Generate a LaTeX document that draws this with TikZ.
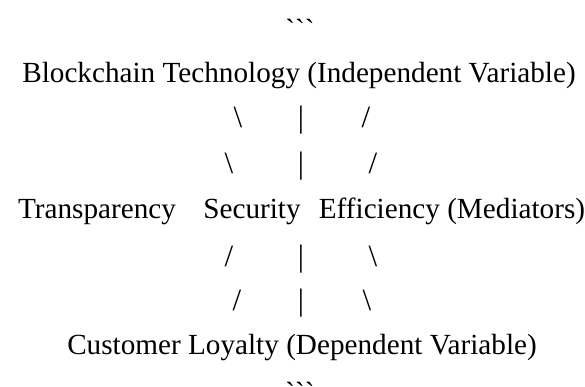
\documentclass[tikz,border=0pt]{standalone}
\usepackage{fontspec}
\setmainfont{Liberation Serif}
\begin{document}
\begin{tikzpicture}[x=1pt, y=-1pt, line cap=round, line join=round,
  txt/.style={inner sep=0pt, anchor=base, font=\fontsize{29.2}{35}\selectfont},
  bar/.style={inner sep=0pt, anchor=base, font=\fontsize{31}{37}\selectfont}]
\useasboundingbox (0,0) rectangle (585,387);
% 各行基线位置
\coordinate (top) at (300,40);   % 上方反引号
\coordinate (iv)  at (299,83);   % 自变量
\coordinate (tr)  at (97,218);   % 中介变量
\coordinate (se)  at (252,218);
\coordinate (ef)  at (452,218);
\coordinate (dv)  at (302,354);  % 因变量
\coordinate (bot) at (300,402);  % 下方反引号
% 文字
\node[txt] (ticksTop) at (top) {\textasciigrave\textasciigrave\textasciigrave};
\node[txt] (blockchain) at (iv) {Blockchain Technology (Independent Variable)};
\node[txt] (transparency) at (tr) {Transparency};
\node[txt] (security) at (se) {Security};
\node[txt] (efficiency) at (ef) {Efficiency (Mediators)};
\node[txt] (loyalty) at (dv) {Customer Loyalty (Dependent Variable)};
\node[txt] (ticksBot) at (bot) {\textasciigrave\textasciigrave\textasciigrave};
% 上半部分的斜线与竖线
\node[bar] (a1) at (238,128) {\textbackslash};
\node[bar] (b1) at (301,128) {\textbar};
\node[bar] (c1) at (366,128) {/};
\node[bar] (a2) at (229,174) {\textbackslash};
\node[bar] (b2) at (301,174) {\textbar};
\node[bar] (c2) at (373,174) {/};
% 下半部分
\node[bar] (a3) at (229,266) {/};
\node[bar] (b3) at (301,266) {\textbar};
\node[bar] (c3) at (373,266) {\textbackslash};
\node[bar] (a4) at (237,310) {/};
\node[bar] (b4) at (301,310) {\textbar};
\node[bar] (c4) at (367,310) {\textbackslash};
\end{tikzpicture}
\end{document}
